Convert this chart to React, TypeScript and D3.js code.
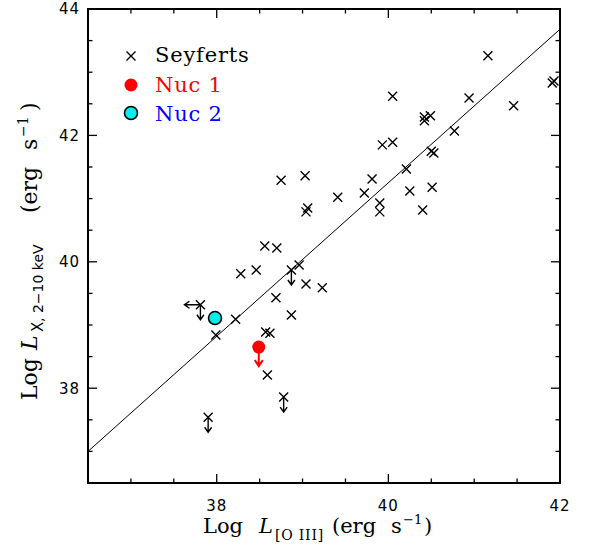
import React from "react";
import * as d3 from "d3";

// Seyfert sample: log L[O III] vs log L(2-10 keV)
const seyfertLogOIII = [
  38.56, 38.70, 38.28, 38.46, 38.87, 38.96, 39.04, 39.23, 38.69, 38.87,
  37.81, 37.99, 38.22, 38.57, 38.62, 38.59, 38.78, 37.90, 38.75, 39.03,
  39.06, 39.04, 39.41, 39.72, 39.81, 39.90, 39.90, 40.21, 40.25, 40.40,
  40.51, 40.50, 40.53, 39.93, 40.05, 40.05, 40.42, 40.49, 40.42, 40.77,
  40.94, 41.16, 41.46, 41.91, 41.93,
];
const seyfertLogLX = [
  40.25, 40.22, 39.81, 39.87, 39.87, 39.95, 39.65, 39.59, 39.43, 39.16,
  39.32, 38.84, 39.09, 38.89, 38.87, 38.21, 37.86, 37.54, 41.29, 41.36,
  40.85, 40.79, 41.02, 41.09, 41.31, 40.93, 40.79, 41.47, 41.12, 40.82,
  41.18, 41.75, 41.72, 41.85, 41.89, 42.62, 42.29, 42.31, 42.23, 42.07,
  42.59, 43.26, 42.47, 42.83, 42.86,
];
// indices of Seyferts whose X-ray / [O III] luminosity is an upper limit
const xrayLimitIdx = [4, 10, 16, 17];
const oiiiLimitIdx = [10];

// nuclei
const nuc1 = { oiii: 38.49, lx: 38.65 }; // X-ray upper limit
const nuc2 = { oiii: 37.98, lx: 39.11 };

// best-fit relation (endpoints across the plotted range)
const fitLogOIII = [36.5, 42.0];
const fitLogLX = [37.0, 43.68];

const xDomain = [36.5, 42];
const yDomain = [36.5, 44];
const xMajorTicks = [38, 40, 42];
const yMajorTicks = [38, 40, 42, 44];

const W = 592;
const H = 552;
const left = 88;
const right = 560;
const top = 9;
const bottom = 483;

const serif = "'DejaVu Serif', serif";
const sans = "'DejaVu Sans', sans-serif";

export default function App() {
  const x = d3.scaleLinear().domain(xDomain).range([left, right]);
  const y = d3.scaleLinear().domain(yDomain).range([bottom, top]);

  const minorX = d3.range(xDomain[0], xDomain[1] + 0.001, 0.5);
  const minorY = d3.range(yDomain[0], yDomain[1] + 0.001, 0.5);

  const fitLine = d3
    .line<number>()
    .x((_, i) => x(fitLogOIII[i]))
    .y((_, i) => y(fitLogLX[i]))(fitLogOIII);

  const cross = (cx: number, cy: number, s = 4.5) =>
    `M${cx - s},${cy - s}L${cx + s},${cy + s}M${cx - s},${cy + s}L${cx + s},${cy - s}`;

  const downArrow = (cx: number, cy: number, len = 15, h = 5, w = 3.5) =>
    `M${cx},${cy}L${cx},${cy + len}M${cx - w},${cy + len - h}L${cx},${cy + len}L${cx + w},${cy + len - h}`;
  const leftArrow = (cx: number, cy: number, len = 16, h = 5, w = 3.5) =>
    `M${cx},${cy}L${cx - len},${cy}M${cx - len + h},${cy - w}L${cx - len},${cy}L${cx - len + h},${cy + w}`;

  const tickLen = (major: boolean) => (major ? 9 : 4.5);

  return (
    <svg
      width={W}
      height={H}
      style={{ position: "absolute", left: 0, top: 0, background: "#fff" }}
    >
      <rect width={W} height={H} fill="#fff" />
      <defs>
        <clipPath id="plot">
          <rect x={left} y={top} width={right - left} height={bottom - top} />
        </clipPath>
      </defs>

      {/* ticks on all four sides */}
      <g stroke="#000" strokeWidth={1.3}>
        {minorX.map((v) => {
          const major = xMajorTicks.some((t) => Math.abs(t - v) < 1e-6);
          const px = x(v);
          const l = tickLen(major);
          return (
            <g key={"xt" + v}>
              <line x1={px} x2={px} y1={bottom} y2={bottom - l} />
              <line x1={px} x2={px} y1={top} y2={top + l} />
            </g>
          );
        })}
        {minorY.map((v) => {
          const major = yMajorTicks.some((t) => Math.abs(t - v) < 1e-6);
          const py = y(v);
          const l = tickLen(major);
          return (
            <g key={"yt" + v}>
              <line x1={left} x2={left + l} y1={py} y2={py} />
              <line x1={right} x2={right - l} y1={py} y2={py} />
            </g>
          );
        })}
      </g>

      {/* tick labels */}
      <g fontFamily={sans} fontSize={15} fill="#000" letterSpacing={1}>
        {xMajorTicks.map((t) => (
          <text key={"xl" + t} x={x(t)} y={511} textAnchor="middle">
            {t}
          </text>
        ))}
        {yMajorTicks.map((t) => (
          <text key={"yl" + t} x={80} y={y(t)} dy="0.36em" textAnchor="end">
            {t}
          </text>
        ))}
      </g>

      {/* fit line */}
      <path d={fitLine ?? ""} fill="none" stroke="#000" strokeWidth={1} clipPath="url(#plot)" />

      {/* Seyferts */}
      <g stroke="#000" strokeWidth={1.4} fill="none">
        {seyfertLogOIII.map((v, i) => (
          <path key={"s" + i} d={cross(x(v), y(seyfertLogLX[i]))} />
        ))}
        {xrayLimitIdx.map((i) => (
          <path key={"xa" + i} d={downArrow(x(seyfertLogOIII[i]), y(seyfertLogLX[i]))} />
        ))}
        {oiiiLimitIdx.map((i) => (
          <path key={"oa" + i} d={leftArrow(x(seyfertLogOIII[i]), y(seyfertLogLX[i]))} />
        ))}
      </g>

      {/* Nuc 1 with X-ray upper limit */}
      <path
        d={downArrow(x(nuc1.oiii), y(nuc1.lx), 19, 6, 4)}
        stroke="#ff0000"
        strokeWidth={2}
        fill="none"
      />
      <circle cx={x(nuc1.oiii)} cy={y(nuc1.lx)} r={6.5} fill="#ff0000" />

      {/* Nuc 2 */}
      <circle cx={x(nuc2.oiii)} cy={y(nuc2.lx)} r={6.5} fill="#00eeee" stroke="#000" strokeWidth={1.6} />

      {/* frame */}
      <rect
        x={left}
        y={top}
        width={right - left}
        height={bottom - top}
        fill="none"
        stroke="#000"
        strokeWidth={2}
      />

      {/* legend */}
      <g fontFamily={serif} fontSize={21} letterSpacing={0.8}>
        <path d={cross(131, 56)} stroke="#000" strokeWidth={1.4} />
        <text x={155} y={62} fill="#000">Seyferts</text>
        <circle cx={131} cy={85} r={6.5} fill="#ff0000" />
        <text x={155} y={92} fill="#ff0000">Nuc 1</text>
        <circle cx={131} cy={113} r={6.5} fill="#00eeee" stroke="#000" strokeWidth={1.6} />
        <text x={155} y={121} fill="#0000ff">Nuc 2</text>
      </g>

      {/* x axis title */}
      <g fontFamily={serif} fontSize={21} fill="#000">
        <text x={203} y={533}>Log</text>
        <text x={259} y={533} fontStyle="italic">L</text>
        <text x={275} y={540} fontSize={14} letterSpacing={0.8}>[O III]</text>
        <text x={332} y={533}>(erg</text>
        <text x={391} y={533}>s</text>
        <text x={403} y={524} fontSize={13}>−1</text>
        <text x={424} y={533}>)</text>
      </g>

      {/* y axis title */}
      <g transform="translate(37,400) rotate(-90)" fontFamily={serif} fontSize={22} fill="#000">
        <text x={0} y={0}>Log</text>
        <text x={50} y={0} fontStyle="italic">L</text>
        <text x={68} y={6} fontFamily={sans} fontSize={15}>X</text>
        <text x={78} y={6} fontFamily={sans} fontSize={14}>, 2−10 keV</text>
        <text x={187} y={0}>(erg</text>
        <text x={250} y={0}>s</text>
        <text x={263} y={-9} fontSize={14}>−1</text>
        <text x={289} y={0}>)</text>
      </g>
    </svg>
  );
}
